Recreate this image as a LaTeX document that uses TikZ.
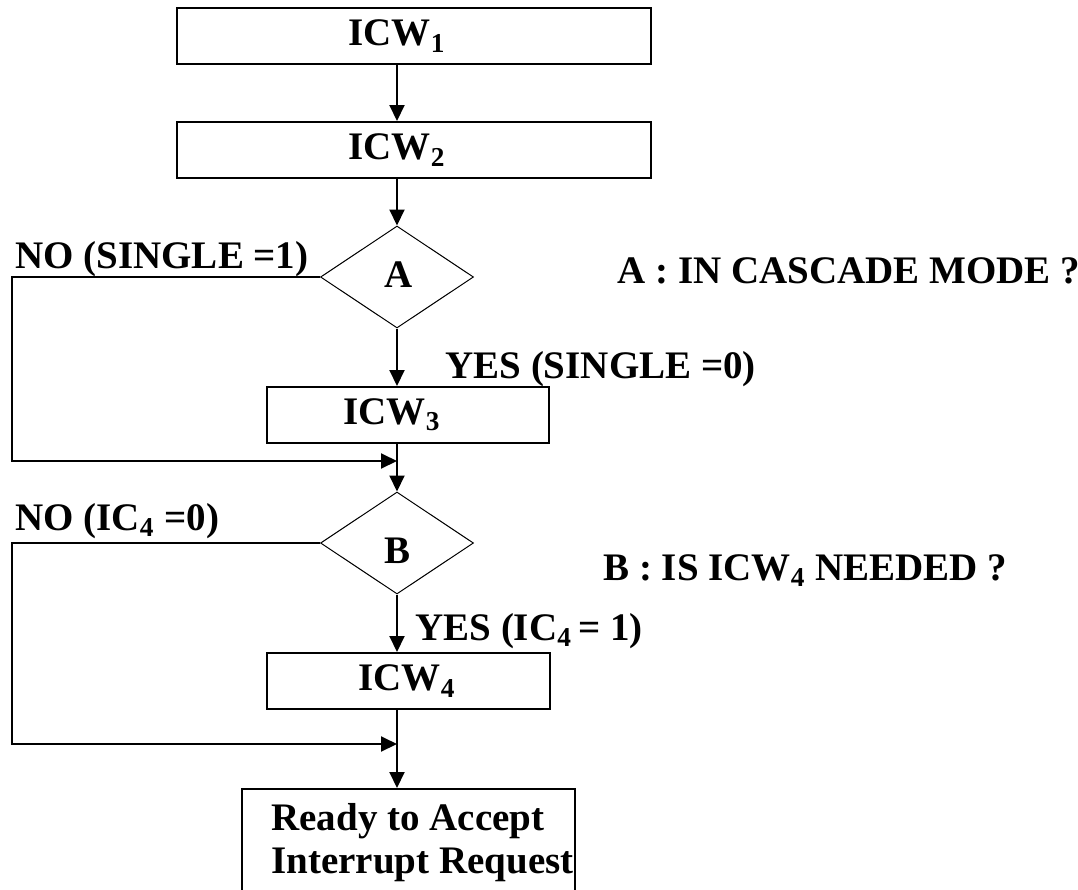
\documentclass[tikz,border=0pt]{standalone}
\usepackage{fontspec}
\setmainfont{Liberation Serif}
\usetikzlibrary{arrows.meta,shapes.geometric}
\begin{document}
\begin{tikzpicture}[x=0.5pt,y=-0.5pt,
  txt/.style={font=\fontsize{19.5}{23}\selectfont\bfseries, inner sep=0},
  lbl/.style={txt, anchor=base west},
  box/.style={draw, line width=1pt, inner sep=0, minimum height=28pt},
  dia/.style={draw, diamond, line width=0.5pt, inner sep=0, minimum width=76.5pt, minimum height=51pt},
  arr/.style={line width=1pt, -{Triangle[length=8pt,width=7.5pt]}},
  ln/.style={line width=1pt}]
\useasboundingbox (0,0) rectangle (1078,890);
% boxes
\node[box, minimum width=237pt] (icw1) at (414,36) {};
\node[txt] (t1) at (397,36) {ICW\textsubscript{1}};
\node[box, minimum width=237pt] (icw2) at (414,150) {};
\node[txt] (t2) at (397,150) {ICW\textsubscript{2}};
\node[dia] (dA) at (397,277) {};
\node[txt] (tA) at (399,275) {A};
\node[box, minimum width=141pt] (icw3) at (408,415) {};
\node[txt] (t3) at (392,415) {ICW\textsubscript{3}};
\node[dia] (dB) at (397,543) {};
\node[txt] (tB) at (398,551) {B};
\node[box, minimum width=141.5pt] (icw4) at (408.5,681) {};
\node[txt] (t4) at (407,681) {ICW\textsubscript{4}};
\node[box, minimum width=166.5pt, minimum height=53pt] (fin) at (408.5,842) {};
\node[lbl] (f1) at (271,830) {Ready to Accept};
\node[lbl] (f2) at (271,873) {Interrupt Request};
% labels
\node[lbl] (noA) at (15,268) {NO (SINGLE =1)};
\node[lbl] (yesA) at (445,378) {YES (SINGLE =0)};
\node[lbl] (qA) at (617,283) {A : IN CASCADE MODE ?};
\node[lbl] (noB) at (15,530) {NO (IC\textsubscript{4} =0)};
\node[lbl] (yesB) at (415,640) {YES (IC\textsubscript{4}\,= 1)};
\node[lbl] (qB) at (603,580) {B : IS ICW\textsubscript{4} NEEDED ?};
% junctions
\coordinate (lx) at (12,0);
\coordinate (j1) at (397,461);
\coordinate (j2) at (397,744);
% connectors
\draw[arr] (icw1.south -| dA) -- (icw2.north -| dA);
\draw[arr] (icw2.south -| dA) -- (dA.north);
\draw[arr] (dA.south) -- (icw3.north -| dA);
\draw[arr] (icw3.south -| dA) -- (dB.north);
\draw[arr] (dA.west) -- (dA.west -| lx) |- (j1);
\draw[arr] (dB.south) -- (icw4.north -| dB);
\draw[arr] (icw4.south -| dB) -- (fin.north -| dB);
\draw[arr] (dB.west) -- (dB.west -| lx) |- (j2);
\end{tikzpicture}
\end{document}
